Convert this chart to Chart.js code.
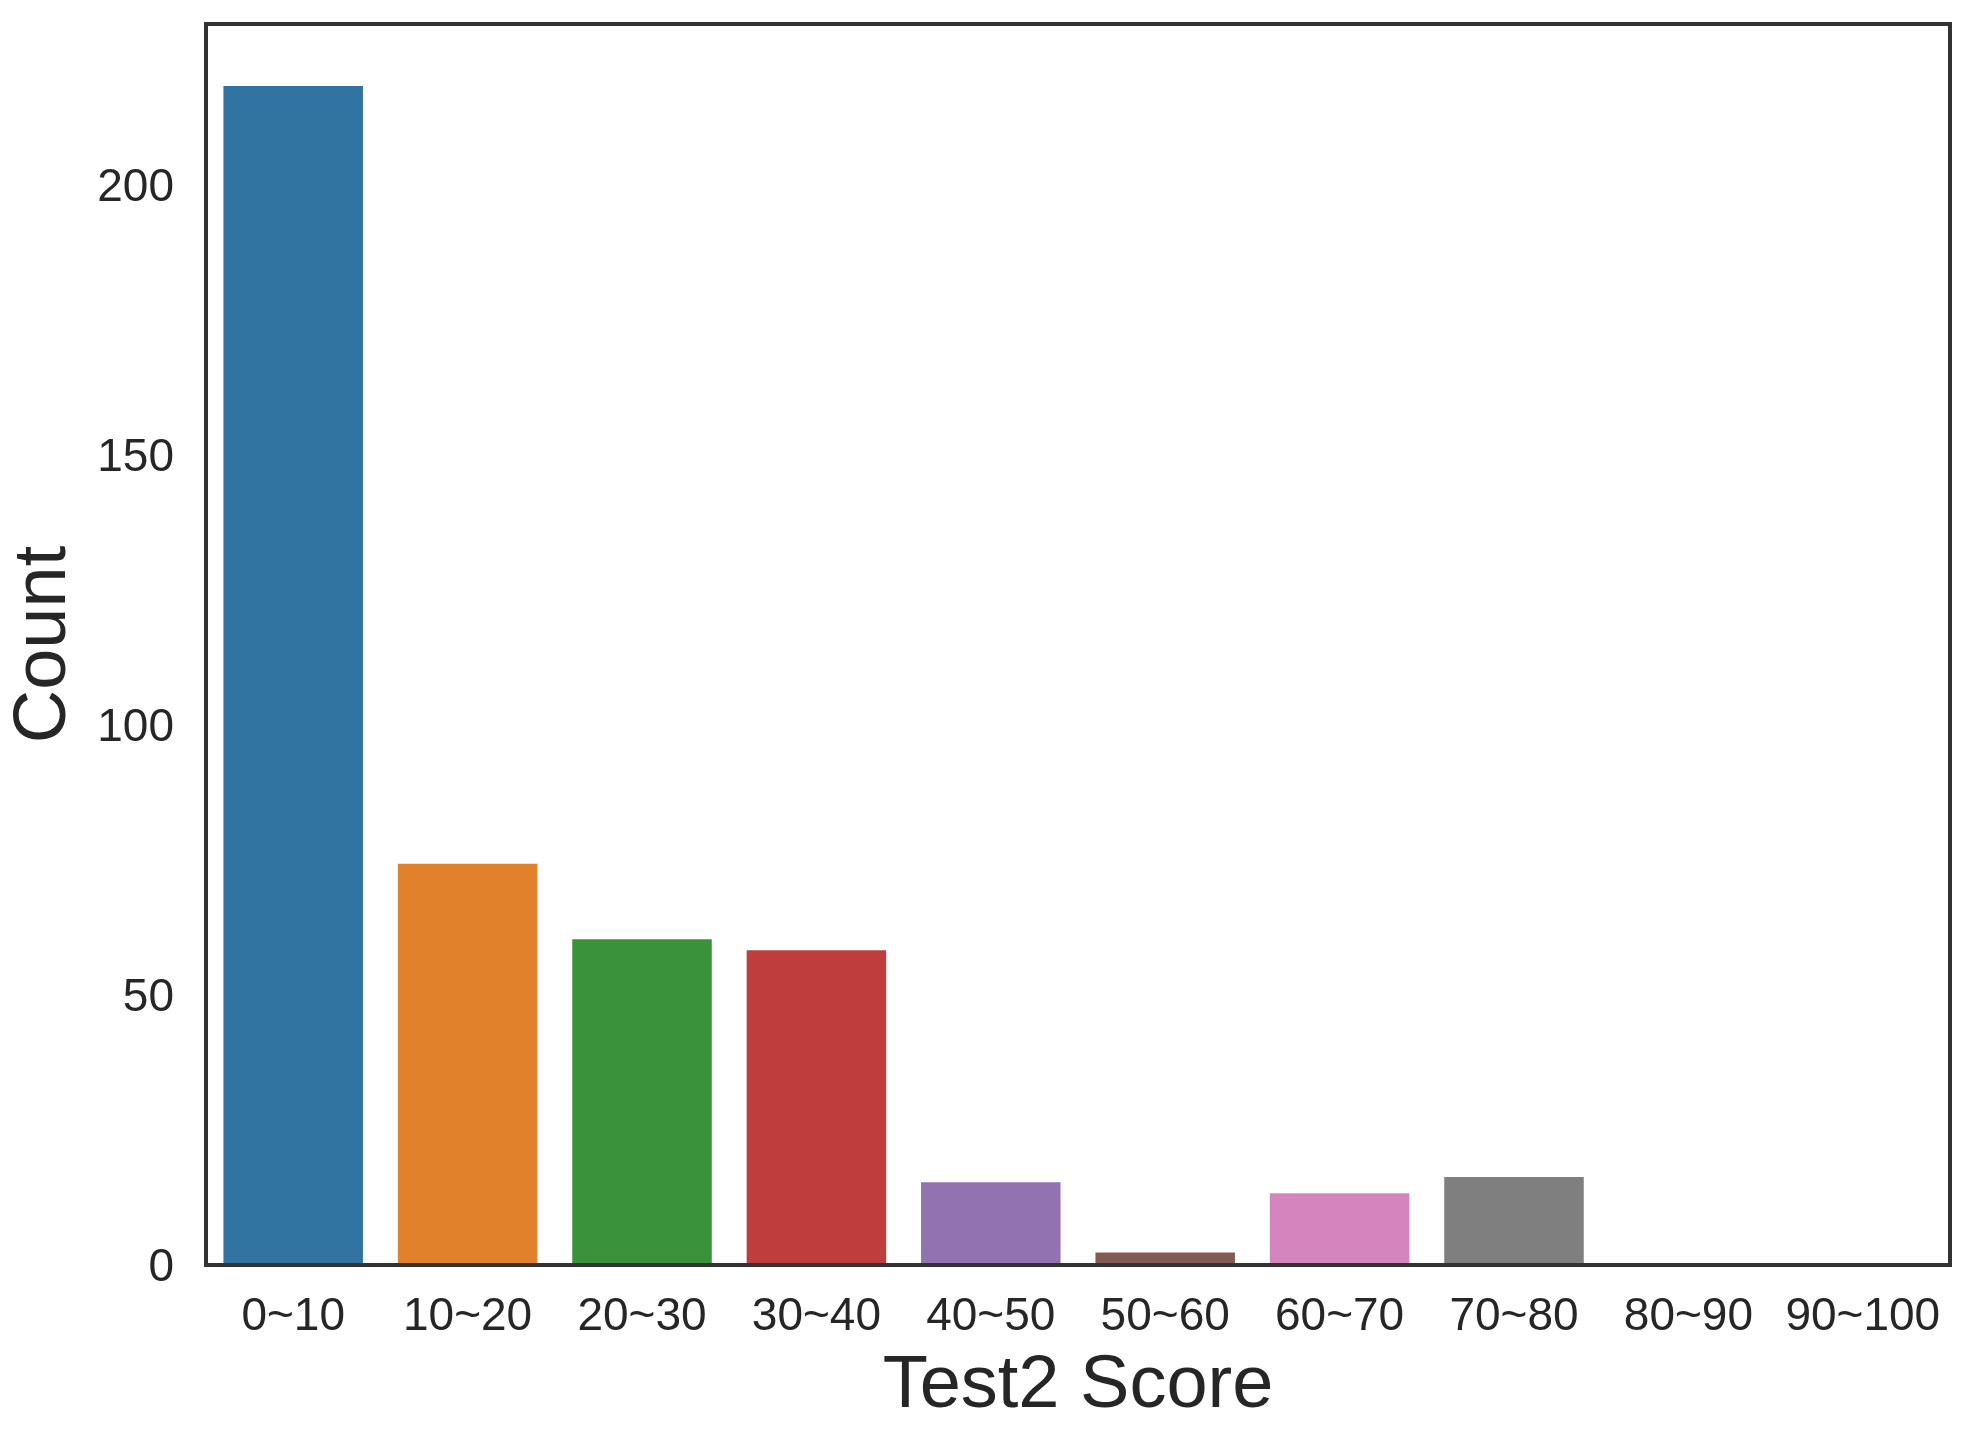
<!DOCTYPE html>
<html>
<head>
<meta charset="utf-8">
<title>Test2 Score</title>
<script src="https://cdn.jsdelivr.net/npm/chart.js@4/dist/chart.umd.min.js"></script>
<style>
    body { margin: 0; background: #fff; }
    #chart { display: block; }
</style>
</head>
<body>
<canvas id="chart" width="1972" height="1446"></canvas>
<script>
// data
const scoreBins = ['0~10','10~20','20~30','30~40','40~50','50~60','60~70','70~80','80~90','90~100']
const counts = [218,74,60,58,15,2,13,16,0,0]
const barColors = ['#3274a1','#e1812c','#3a923a','#c03d3e','#9372b2','#845b53','#d684bd','#7f7f7f','#a9aa35','#338eb3']
const yTicks = [0,50,100,150,200]

const textColor = '#262626'
const fontFamily = '"Liberation Sans", Arial, sans-serif'

// box round the plot area, like the seaborn spines
const framePlugin = {
    id: 'frame',
    afterDraw(chart) {
        const {ctx, chartArea} = chart
        ctx.save()
        ctx.strokeStyle = '#333333'
        ctx.lineWidth = 4
        ctx.strokeRect(chartArea.left, chartArea.top, chartArea.right - chartArea.left, chartArea.bottom - chartArea.top)
        ctx.restore()
    }
}

// keep the plot box where the reference has it
const noEdgePadding = (scale) => {
    scale.paddingTop = 0
    scale.paddingBottom = 0
    scale.paddingLeft = 0
    scale.paddingRight = 0
}

const chart = document.querySelector('#chart').getContext('2d')

new Chart(chart, {
    type: 'bar',
    data: {
        labels: scoreBins,
        datasets: [
            {
                label: 'Count',
                data: counts,
                backgroundColor: barColors,
                borderWidth: 0,
                categoryPercentage: 0.8,
                barPercentage: 1.0
            }
        ]
    },
    options: {
        responsive: false,
        animation: false,
        layout: {
            padding: { top: 24, right: 22, bottom: 0, left: 0 }
        },
        plugins: {
            legend: { display: false },
            tooltip: { enabled: false }
        },
        scales: {
            x: {
                grid: { display: false, drawTicks: false },
                border: { display: false },
                ticks: {
                    color: textColor,
                    padding: 25,
                    maxRotation: 0,
                    font: { family: fontFamily, size: 46 }
                },
                title: {
                    display: true,
                    text: 'Test2 Score',
                    color: textColor,
                    padding: { top: 0, bottom: 15 },
                    font: { family: fontFamily, size: 74 }
                },
                afterFit: (scale) => {
                    scale.height = 181
                    noEdgePadding(scale)
                }
            },
            y: {
                min: -0.3,
                max: 229.5,
                grid: { display: false, drawTicks: false },
                border: { display: false },
                afterBuildTicks: (scale) => { scale.ticks = yTicks.map(v => ({ value: v })) },
                ticks: {
                    color: textColor,
                    padding: 32,
                    labelOffset: 5,
                    font: { family: fontFamily, size: 46 }
                },
                title: {
                    display: true,
                    text: 'Count',
                    color: textColor,
                    padding: { top: 0, bottom: 0 },
                    font: { family: fontFamily, size: 74 }
                },
                afterFit: (scale) => {
                    scale.width = 206
                    noEdgePadding(scale)
                }
            }
        }
    },
    plugins: [framePlugin]
})
</script>
</body>
</html>
